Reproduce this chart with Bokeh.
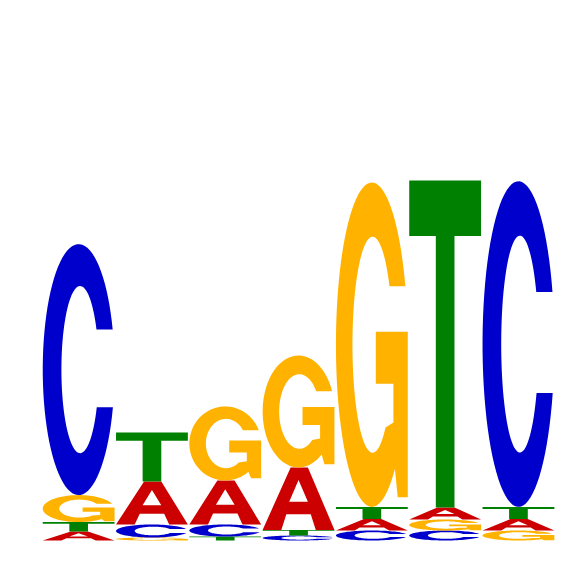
import numpy as np
import bokeh.plotting
import bokeh.models
from bokeh.embed import file_html
from bokeh.resources import INLINE

# information content (bits) of each base at each motif position
positions = [1, 2, 3, 4, 5, 6, 7]
A_bits = [0.045, 0.215, 0.220, 0.312, 0.058, 0.060, 0.058]
C_bits = [1.255, 0.065, 0.060, 0.025, 0.050, 0.050, 1.628]
G_bits = [0.135, 0.015, 0.370, 0.560, 1.622, 0.055, 0.050]
T_bits = [0.047, 0.245, 0.020, 0.028, 0.060, 1.635, 0.060]

colors = {"A": "#CC0000", "C": "#0000CC", "G": "#FFB300", "T": "#008000"}


def arc(cx, cy, rx, ry, a0, a1, n=80):
    t = np.radians(np.linspace(a0, a1, n))
    return list(cx + rx * np.cos(t)), list(cy + ry * np.sin(t))


def letter_shape(base):
    # outline in a unit box, list of rings (first = outer, rest = holes)
    if base == "A":
        outer = ([0, 0.39, 0.63, 1, 0.74, 0.67, 0.33, 0.26],
                 [0, 1, 1, 0, 0, 0.25, 0.25, 0])
        hole = ([0.37, 0.63, 0.5], [0.45, 0.45, 0.80])
        return [outer, hole]
    if base == "T":
        return [([0, 1, 1, 0.63, 0.63, 0.37, 0.37, 0],
                 [1, 1, 0.83, 0.83, 0, 0, 0.83, 0.83])]
    if base == "C":
        top, bot = 0.66, 0.35
        o0 = np.degrees(np.arcsin((top - 0.5) / 0.5))
        o1 = 360 + np.degrees(np.arcsin((bot - 0.5) / 0.5))
        i0 = np.degrees(np.arcsin((top - 0.5) / 0.333))
        i1 = 360 + np.degrees(np.arcsin((bot - 0.5) / 0.333))
        ox, oy = arc(0.5, 0.5, 0.5, 0.5, o0, o1)
        ix, iy = arc(0.52, 0.5, 0.26, 0.333, i1, i0)
        return [(ox + ix, oy + iy)]
    # G
    top = 0.68
    o0 = np.degrees(np.arcsin((top - 0.5) / 0.5))
    i0 = np.degrees(np.arcsin((top - 0.5) / 0.333))
    ox, oy = arc(0.5, 0.5, 0.5, 0.5, o0, 310)
    sx = [0.86, 1.0, 1.0, 0.555, 0.555, 0.80, 0.80]
    sy = [0.03, 0.03, 0.54, 0.54, 0.38, 0.38, 0.26]
    ix, iy = arc(0.51, 0.5, 0.28, 0.333, -50, -(360 - i0))
    return [(ox + sx + ix, oy + sy + iy)]


xs, ys, fills = [], [], []
bits = {"A": A_bits, "C": C_bits, "G": G_bits, "T": T_bits}
for i, pos in enumerate(positions):
    stack = sorted(bits, key=lambda b: bits[b][i])
    y0 = 0.0
    for base in stack:
        h = bits[base][i]
        x0 = pos - 1 + 0.01
        w = 0.98
        rings_x = [list(x0 + w * np.array(r[0])) for r in letter_shape(base)]
        rings_y = [list(y0 + h * np.array(r[1])) for r in letter_shape(base)]
        xs.append([rings_x])
        ys.append([rings_y])
        fills.append(colors[base])
        y0 += h

source = bokeh.models.ColumnDataSource(data=dict(xs=xs, ys=ys, color=fills))

W = 560
px_per_col = 73.3
px_per_bit = 200.0
x_start = -41.5 / px_per_col
y_start = -(W - 540) / px_per_bit

p = bokeh.plotting.figure(
    width=W,
    height=W,
    x_range=bokeh.models.Range1d(x_start, x_start + W / px_per_col),
    y_range=bokeh.models.Range1d(y_start, y_start + W / px_per_bit),
    x_axis_location=None,
    y_axis_location=None,
    toolbar_location=None,
    output_backend="svg",
    min_border=0,
)
p.outline_line_color = None
p.grid.grid_line_color = None

p.multi_polygons(xs="xs", ys="ys", fill_color="color", line_color=None, source=source)

open("out.html", "w").write(file_html(p, INLINE))
